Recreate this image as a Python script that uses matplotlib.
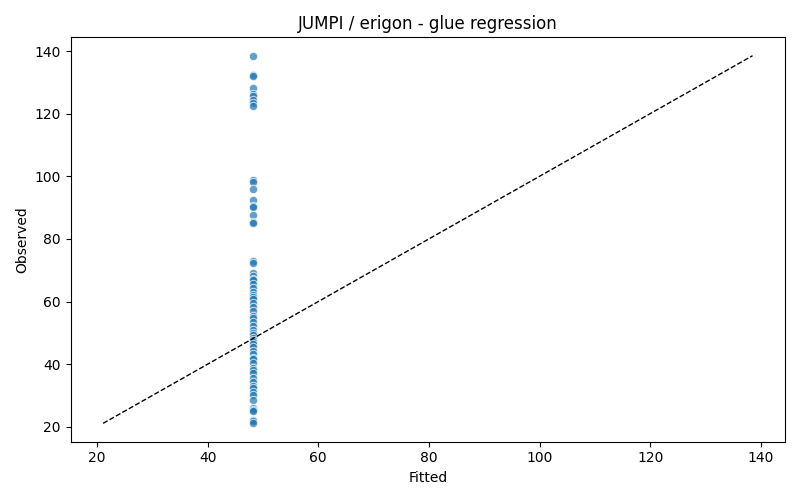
import matplotlib
matplotlib.use("Agg")
import matplotlib.pyplot as plt
import numpy as np

observed = [138.5, 132.4, 132.1, 128.2, 126.3, 125.6, 124.4, 123.5, 122.6,
            98.8, 98.2, 96.0, 92.5, 90.6, 90.3, 87.5, 85.3, 85.0,
            73.0, 72.2, 69.0, 68.1, 67.2, 66.8, 65.5, 64.2, 63.1, 62.0, 61.3, 60.8,
            59.6, 58.2, 57.0, 55.5, 54.8, 53.6, 52.3, 51.0, 50.1, 49.3, 48.5, 47.8,
            47.2, 46.3, 45.5, 44.2, 43.1, 42.0, 41.5, 40.3, 38.8, 38.2, 37.2, 35.5,
            34.3, 33.0, 32.4, 31.0, 30.2, 28.6, 26.1, 25.4, 25.0, 22.3, 21.8, 21.1]
fitted_value = 48.2
fitted = [fitted_value] * len(observed)

plt.figure(figsize=(8, 5), dpi=100)
plt.scatter(fitted, observed, s=36, color="#1f77b4", alpha=0.7,
            edgecolors="white", linewidths=0.75)

lo = min(min(observed), min(fitted))
hi = max(max(observed), max(fitted))
plt.plot([lo, hi], [lo, hi], "k--", linewidth=1)

plt.xlabel("Fitted")
plt.ylabel("Observed")
plt.title("JUMPI / erigon - glue regression")
plt.tight_layout()
plt.savefig("out.png")
